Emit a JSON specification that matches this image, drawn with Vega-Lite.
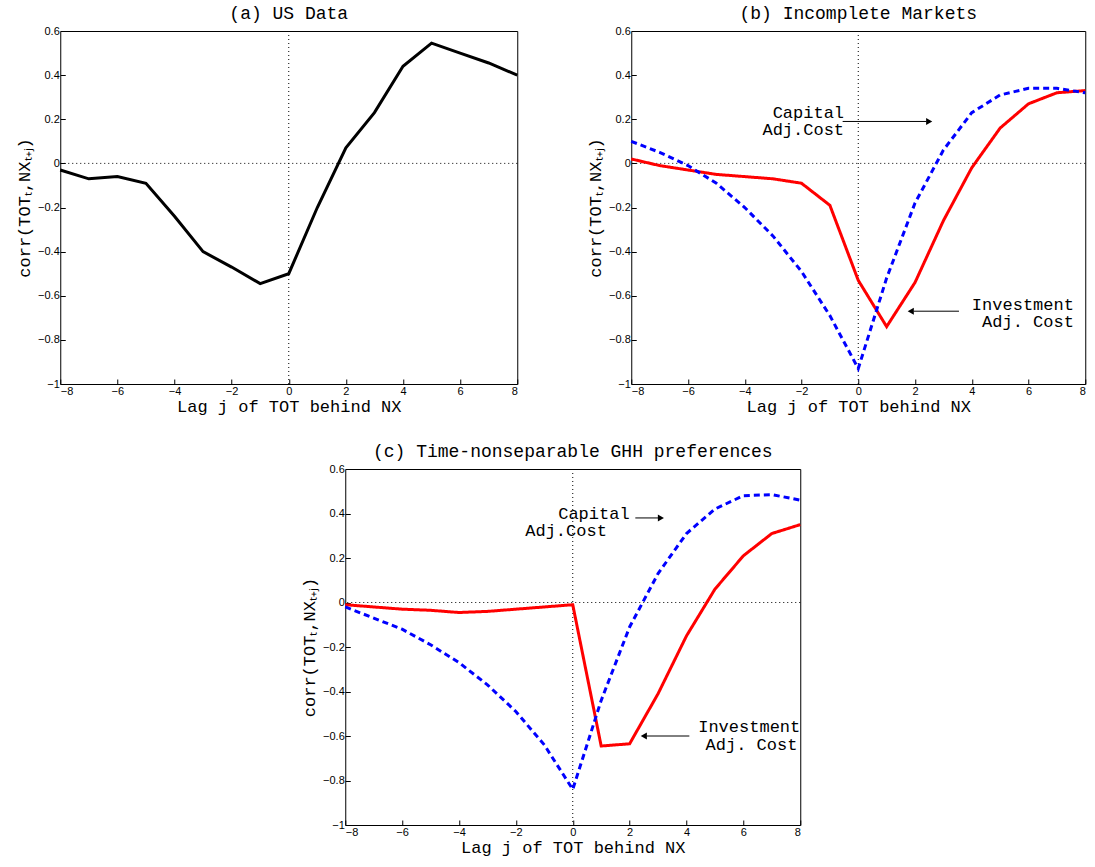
{
"$schema":"https://vega.github.io/schema/vega-lite/v6.json",
"background":"white",
"padding":{"left":15,"top":4,"right":8,"bottom":5},
"config":{"view":{"stroke":"black","strokeWidth":1},
"axis":{"grid":false,"domain":false,"tickColor":"black","tickSize":-5,"labelFont":"Liberation Sans","labelFontSize":11,"labelColor":"black","titleFont":"Liberation Mono","titleFontSize":17,"titleFontWeight":"normal","titleColor":"black","labelPadding":6,"format":"~g"},
"title":{"font":"Liberation Mono","fontSize":18,"fontWeight":"normal","offset":2}},
"datasets":{
"a":[{"j":-8,"v":-0.03},{"j":-7,"v":-0.07},{"j":-6,"v":-0.06},{"j":-5,"v":-0.09},{"j":-4,"v":-0.24},{"j":-3,"v":-0.40},{"j":-2,"v":-0.47},{"j":-1,"v":-0.545},{"j":0,"v":-0.50},{"j":1,"v":-0.20},{"j":2,"v":0.07},{"j":3,"v":0.23},{"j":4,"v":0.44},{"j":5,"v":0.545},{"j":6,"v":0.50},{"j":7,"v":0.455},{"j":8,"v":0.40}],
"b":[{"j":-8,"v":0.02,"s":"Inv"},{"j":-7,"v":-0.01,"s":"Inv"},{"j":-6,"v":-0.03,"s":"Inv"},{"j":-5,"v":-0.05,"s":"Inv"},{"j":-4,"v":-0.06,"s":"Inv"},{"j":-3,"v":-0.07,"s":"Inv"},{"j":-2,"v":-0.09,"s":"Inv"},{"j":-1,"v":-0.19,"s":"Inv"},{"j":0,"v":-0.53,"s":"Inv"},{"j":1,"v":-0.74,"s":"Inv"},{"j":2,"v":-0.54,"s":"Inv"},{"j":3,"v":-0.26,"s":"Inv"},{"j":4,"v":-0.02,"s":"Inv"},{"j":5,"v":0.16,"s":"Inv"},{"j":6,"v":0.27,"s":"Inv"},{"j":7,"v":0.32,"s":"Inv"},{"j":8,"v":0.33,"s":"Inv"},
{"j":-8,"v":0.10,"s":"Cap"},{"j":-7,"v":0.05,"s":"Cap"},{"j":-6,"v":-0.01,"s":"Cap"},{"j":-5,"v":-0.09,"s":"Cap"},{"j":-4,"v":-0.20,"s":"Cap"},{"j":-3,"v":-0.33,"s":"Cap"},{"j":-2,"v":-0.49,"s":"Cap"},{"j":-1,"v":-0.69,"s":"Cap"},{"j":0,"v":-0.93,"s":"Cap"},{"j":1,"v":-0.52,"s":"Cap"},{"j":2,"v":-0.18,"s":"Cap"},{"j":3,"v":0.06,"s":"Cap"},{"j":4,"v":0.23,"s":"Cap"},{"j":5,"v":0.31,"s":"Cap"},{"j":6,"v":0.34,"s":"Cap"},{"j":7,"v":0.34,"s":"Cap"},{"j":8,"v":0.32,"s":"Cap"}],
"c":[{"j":-8,"v":-0.01,"s":"Inv"},{"j":-7,"v":-0.02,"s":"Inv"},{"j":-6,"v":-0.03,"s":"Inv"},{"j":-5,"v":-0.035,"s":"Inv"},{"j":-4,"v":-0.045,"s":"Inv"},{"j":-3,"v":-0.04,"s":"Inv"},{"j":-2,"v":-0.03,"s":"Inv"},{"j":-1,"v":-0.02,"s":"Inv"},{"j":0,"v":-0.01,"s":"Inv"},{"j":1,"v":-0.645,"s":"Inv"},{"j":2,"v":-0.635,"s":"Inv"},{"j":3,"v":-0.41,"s":"Inv"},{"j":4,"v":-0.15,"s":"Inv"},{"j":5,"v":0.06,"s":"Inv"},{"j":6,"v":0.21,"s":"Inv"},{"j":7,"v":0.31,"s":"Inv"},{"j":8,"v":0.35,"s":"Inv"},
{"j":-8,"v":-0.02,"s":"Cap"},{"j":-7,"v":-0.07,"s":"Cap"},{"j":-6,"v":-0.12,"s":"Cap"},{"j":-5,"v":-0.19,"s":"Cap"},{"j":-4,"v":-0.27,"s":"Cap"},{"j":-3,"v":-0.37,"s":"Cap"},{"j":-2,"v":-0.49,"s":"Cap"},{"j":-1,"v":-0.64,"s":"Cap"},{"j":0,"v":-0.84,"s":"Cap"},{"j":1,"v":-0.44,"s":"Cap"},{"j":2,"v":-0.11,"s":"Cap"},{"j":3,"v":0.13,"s":"Cap"},{"j":4,"v":0.31,"s":"Cap"},{"j":5,"v":0.42,"s":"Cap"},{"j":6,"v":0.48,"s":"Cap"},{"j":7,"v":0.485,"s":"Cap"},{"j":8,"v":0.46,"s":"Cap"}],
"zero":[{"z":0}],
"bt":[{"x":-0.5,"y":0.23,"t":"Capital"},{"x":-0.5,"y":0.15,"t":"Adj.Cost"},{"x":7.6,"y":-0.64,"t":"Investment"},{"x":7.6,"y":-0.72,"t":"Adj. Cost"}],
"ba":[{"x":-0.55,"x2":2.4,"y":0.19,"h":2.5,"sh":"triangle-right"},{"x":3.55,"x2":1.95,"y":-0.67,"h":1.85,"sh":"triangle-left"}],
"ct":[{"x":2.0,"y":0.40,"t":"Capital"},{"x":1.2,"y":0.32,"t":"Adj.Cost"},{"x":8.0,"y":-0.56,"t":"Investment"},{"x":7.9,"y":-0.64,"t":"Adj. Cost"}],
"ca":[{"x":2.2,"x2":3.0,"y":0.38,"h":3.1,"sh":"triangle-right"},{"x":4.1,"x2":2.6,"y":-0.60,"h":2.5,"sh":"triangle-left"}]
},
"vconcat":[
{"hconcat":[
{"title":"(a) US Data","width":457,"height":353,
"layer":[
{"data":{"name":"zero"},"mark":{"type":"rule","strokeDash":[1,3],"color":"black","strokeWidth":1},"encoding":{"y":{"field":"z","type":"quantitative","scale":{"domain":[-1,0.6]}}}},
{"data":{"name":"zero"},"mark":{"type":"rule","strokeDash":[1,3],"color":"black","strokeWidth":1},"encoding":{"x":{"field":"z","type":"quantitative","scale":{"domain":[-8,8]}}}},
{"data":{"name":"a"},"mark":{"type":"line","color":"black","strokeWidth":3},"encoding":{
"x":{"field":"j","type":"quantitative","scale":{"domain":[-8,8],"nice":false},"axis":{"values":[-8,-6,-4,-2,0,2,4,6,8],"title":"Lag j of TOT behind NX","titlePadding":2}},
"y":{"field":"v","type":"quantitative","scale":{"domain":[-1,0.6],"nice":false},"axis":{"values":[-1,-0.8,-0.6,-0.4,-0.2,0,0.2,0.4,0.6],"title":"corr(TOTₜ,NXₜ₊ⱼ)","titlePadding":4}}}}
]},
{"title":"(b) Incomplete Markets","width":454,"height":353,
"layer":[
{"data":{"name":"zero"},"mark":{"type":"rule","strokeDash":[1,3],"color":"black","strokeWidth":1},"encoding":{"y":{"field":"z","type":"quantitative","scale":{"domain":[-1,0.6]}}}},
{"data":{"name":"zero"},"mark":{"type":"rule","strokeDash":[1,3],"color":"black","strokeWidth":1},"encoding":{"x":{"field":"z","type":"quantitative","scale":{"domain":[-8,8]}}}},
{"data":{"name":"b"},"mark":{"type":"line","strokeWidth":3},"encoding":{
"x":{"field":"j","type":"quantitative","scale":{"domain":[-8,8],"nice":false},"axis":{"values":[-8,-6,-4,-2,0,2,4,6,8],"title":"Lag j of TOT behind NX","titlePadding":2}},
"y":{"field":"v","type":"quantitative","scale":{"domain":[-1,0.6],"nice":false},"axis":{"values":[-1,-0.8,-0.6,-0.4,-0.2,0,0.2,0.4,0.6],"title":"corr(TOTₜ,NXₜ₊ⱼ)","titlePadding":4}},
"color":{"field":"s","type":"nominal","scale":{"domain":["Inv","Cap"],"range":["#ff0000","#0000ff"]},"legend":null},
"strokeDash":{"field":"s","type":"nominal","scale":{"domain":["Inv","Cap"],"range":[[1,0],[6,4]]},"legend":null}}},
{"data":{"name":"bt"},"mark":{"type":"text","align":"right","font":"Liberation Mono","fontSize":17},"encoding":{"x":{"field":"x","type":"quantitative"},"y":{"field":"y","type":"quantitative"},"text":{"field":"t"}}},
{"data":{"name":"ba"},"mark":{"type":"rule","color":"black","strokeWidth":1},"encoding":{"x":{"field":"x","type":"quantitative"},"x2":{"field":"x2"},"y":{"field":"y","type":"quantitative"}}},
{"data":{"name":"ba"},"mark":{"type":"point","filled":true,"color":"black","size":50,"opacity":1},"encoding":{"x":{"field":"h","type":"quantitative"},"y":{"field":"y","type":"quantitative"},"shape":{"field":"sh","type":"nominal","scale":null}}}
]}
],"spacing":61},
{"title":"(c) Time-nonseparable GHH preferences","width":455,"height":356,
"layer":[
{"data":{"name":"zero"},"mark":{"type":"rule","strokeDash":[1,3],"color":"black","strokeWidth":1},"encoding":{"y":{"field":"z","type":"quantitative","scale":{"domain":[-1,0.6]}}}},
{"data":{"name":"zero"},"mark":{"type":"rule","strokeDash":[1,3],"color":"black","strokeWidth":1},"encoding":{"x":{"field":"z","type":"quantitative","scale":{"domain":[-8,8]}}}},
{"data":{"name":"c"},"mark":{"type":"line","strokeWidth":3},"encoding":{
"x":{"field":"j","type":"quantitative","scale":{"domain":[-8,8],"nice":false},"axis":{"values":[-8,-6,-4,-2,0,2,4,6,8],"title":"Lag j of TOT behind NX","titlePadding":2}},
"y":{"field":"v","type":"quantitative","scale":{"domain":[-1,0.6],"nice":false},"axis":{"values":[-1,-0.8,-0.6,-0.4,-0.2,0,0.2,0.4,0.6],"title":"corr(TOTₜ,NXₜ₊ⱼ)","titlePadding":4}},
"color":{"field":"s","type":"nominal","scale":{"domain":["Inv","Cap"],"range":["#ff0000","#0000ff"]},"legend":null},
"strokeDash":{"field":"s","type":"nominal","scale":{"domain":["Inv","Cap"],"range":[[1,0],[6,4]]},"legend":null}}},
{"data":{"name":"ct"},"mark":{"type":"text","align":"right","font":"Liberation Mono","fontSize":17},"encoding":{"x":{"field":"x","type":"quantitative"},"y":{"field":"y","type":"quantitative"},"text":{"field":"t"}}},
{"data":{"name":"ca"},"mark":{"type":"rule","color":"black","strokeWidth":1},"encoding":{"x":{"field":"x","type":"quantitative"},"x2":{"field":"x2"},"y":{"field":"y","type":"quantitative"}}},
{"data":{"name":"ca"},"mark":{"type":"point","filled":true,"color":"black","size":50,"opacity":1},"encoding":{"x":{"field":"h","type":"quantitative"},"y":{"field":"y","type":"quantitative"},"shape":{"field":"sh","type":"nominal","scale":null}}}
]}
],
"spacing":27,
"center":true
}
